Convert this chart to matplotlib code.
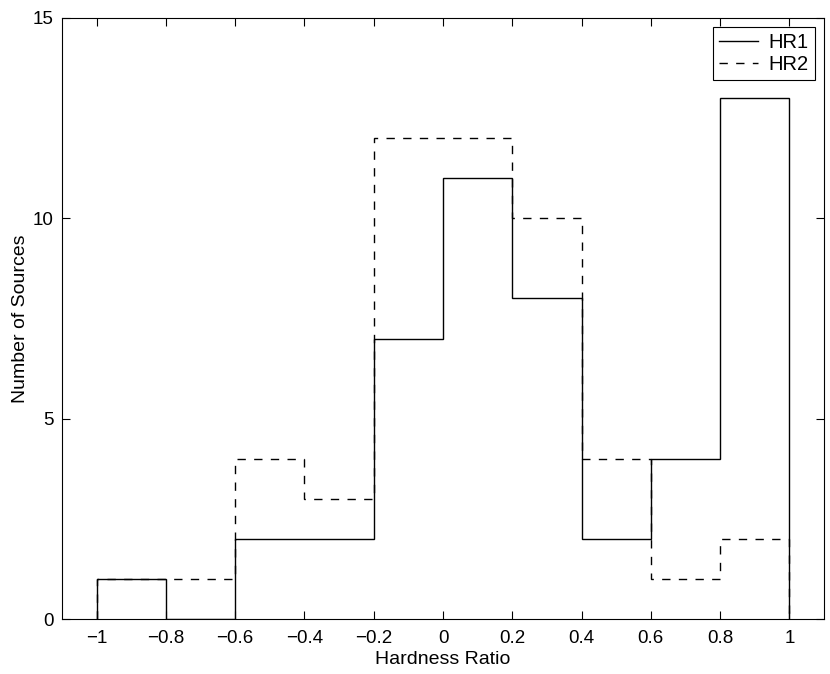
import matplotlib
matplotlib.use("Agg")
import matplotlib.pyplot as plt
import numpy as np

edges = [-1.0, -0.8, -0.6, -0.4, -0.2, 0.0, 0.2, 0.4, 0.6, 0.8, 1.0]
hr1 = [1, 0, 2, 2, 7, 11, 8, 2, 4, 13]
hr2 = [1, 1, 4, 3, 12, 12, 10, 4, 1, 2]
xticks = [-1, -0.8, -0.6, -0.4, -0.2, 0, 0.2, 0.4, 0.6, 0.8, 1]
xticklabels = ["\u22121", "\u22120.8", "\u22120.6", "\u22120.4", "\u22120.2", "0", "0.2", "0.4", "0.6", "0.8", "1"]
yticks = [0, 5, 10, 15]

plt.rcParams['font.family'] = ['Liberation Sans', 'DejaVu Sans']
plt.rcParams['font.size'] = 13.5

fig = plt.figure(figsize=(8.30, 6.74), dpi=100)
ax = fig.add_axes([0.0747, 0.0816, 0.9181, 0.8917])

ax.stairs(hr1, edges, baseline=0, fill=False, color='black', linewidth=1.0, label='HR1')
ax.stairs(hr2, edges, baseline=0, fill=False, color='black', linewidth=1.0,
          linestyle=(0, (6, 6)), label='HR2')

ax.set_xlim(-1.1, 1.1)
ax.set_ylim(0, 15)
ax.set_xticks(xticks)
ax.set_xticklabels(xticklabels)
ax.set_yticks(yticks)
ax.tick_params(axis='both', direction='in', top=True, right=True, length=6, width=0.8,
               labelsize=13.5)
ax.tick_params(axis='x', pad=8)
ax.tick_params(axis='y', pad=6)
for s in ax.spines.values():
    s.set_linewidth(0.8)

ax.set_xlabel('Hardness Ratio', fontsize=14, labelpad=3)
ax.set_ylabel('Number of Sources', fontsize=14, labelpad=3)

leg = ax.legend(loc='upper right', fancybox=False, framealpha=1, edgecolor='black',
                handlelength=1.9, handletextpad=0.55, labelspacing=0.15,
                borderpad=0.3, borderaxespad=0.45, fontsize=14.5)
leg.get_frame().set_linewidth(0.8)

fig.savefig('out.png', dpi=100)
